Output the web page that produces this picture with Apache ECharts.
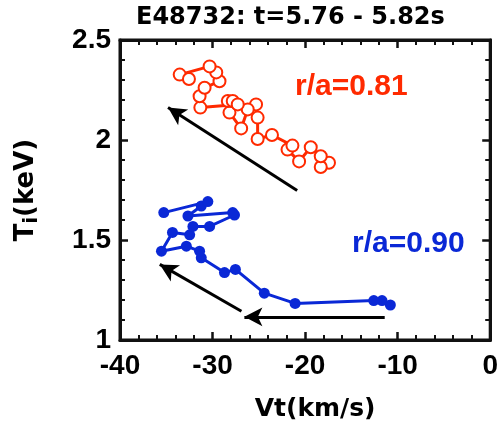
<!DOCTYPE html>
<html>
<head>
<meta charset="utf-8">
<script src="https://cdn.jsdelivr.net/npm/echarts@6/dist/echarts.min.js"></script>
<style>html,body{margin:0;padding:0;background:#fff;}#c{width:501px;height:427px;}</style>
</head>
<body>
<div id="c"></div>
<script>
const vt081 = [-17.42, -18.31, -18.31, -19.39, -20.65, -21.90, -21.37, -23.58, -25.13, -25.13, -25.30, -26.20, -26.91, -28.17, -28.35, -27.82, -27.28, -31.32, -31.40, -30.86, -29.25, -29.60, -30.32, -33.55, -32.55];
const ti081 = [1.886, 1.865, 1.919, 1.964, 1.893, 1.952, 1.972, 2.025, 2.005, 2.112, 2.178, 2.153, 2.058, 2.137, 2.195, 2.195, 2.178, 2.162, 2.219, 2.261, 2.294, 2.338, 2.368, 2.327, 2.305];
const vt090 = [-10.79, -11.69, -12.58, -21.08, -24.41, -27.53, -28.71, -31.22, -31.40, -32.83, -35.52, -34.33, -32.47, -32.12, -30.32, -27.63, -27.82, -32.66, -31.22, -30.51, -35.27];
const ti090 = [1.175, 1.197, 1.197, 1.183, 1.234, 1.353, 1.337, 1.411, 1.444, 1.469, 1.444, 1.538, 1.526, 1.568, 1.568, 1.625, 1.637, 1.620, 1.670, 1.692, 1.637];
const arrows = [
  [-20.86, 1.748, -34.81, 2.162],
  [-26.88, 1.144, -35.70, 1.378],
  [-11.40, 1.116, -26.56, 1.116]
];
const xTicks = [-40, -30, -20, -10, 0];
const yTicks = [1, 1.5, 2, 2.5];
const titleText = 'E48732: t=5.76 - 5.82s';
const labels = ['r/a=0.81', 'r/a=0.90'];

const RED = '#ff2a00', BLUE = '#0a28d6', INK = '#000000', AX = '#111111';
const zip = (a, b) => a.map((v, i) => [v, b[i]]);

const chart = echarts.init(document.getElementById('c'));
const tickFont = {fontFamily: 'Liberation Sans', fontWeight: 'bold', fontSize: 28, color: INK};
const line = () => ({show: true, onZero: false, lineStyle: {color: AX, width: 3}});
const tick = () => ({show: true, inside: true, length: 8, lineStyle: {color: AX, width: 2.5}});
const minor = () => ({show: true, splitNumber: 5, length: 5, lineStyle: {color: AX, width: 2}});

chart.setOption({
  animation: false,
  backgroundColor: '#fff',
  title: {
    text: titleText, left: 131, top: 1,
    textStyle: {fontFamily: 'DejaVu Sans', fontWeight: 'bold', fontSize: 24, color: INK}
  },
  grid: {left: 120, right: 9, top: 40, bottom: 84, show: true, borderColor: AX, borderWidth: 3, backgroundColor: 'transparent'},
  xAxis: [
    {
      type: 'value', min: xTicks[0], max: xTicks[4], interval: 10, position: 'bottom',
      axisLine: line(), axisTick: tick(), minorTick: minor(), splitLine: {show: false},
      axisLabel: Object.assign({margin: 12, showMinLabel: true, showMaxLabel: true}, tickFont),
      name: 'Vt(km/s)', nameLocation: 'middle', nameGap: 57,
      nameTextStyle: {fontFamily: 'DejaVu Sans', fontWeight: 'bold', fontSize: 25, color: INK, padding: [0, 0, 0, 20]}
    },
    {
      type: 'value', min: xTicks[0], max: xTicks[4], interval: 10, position: 'top',
      axisLine: line(), axisTick: tick(), minorTick: minor(), splitLine: {show: false},
      axisLabel: {show: false}
    }
  ],
  yAxis: [
    {
      type: 'value', min: yTicks[0], max: yTicks[3], interval: 0.5, position: 'left',
      axisLine: line(), axisTick: tick(), minorTick: minor(), splitLine: {show: false},
      axisLabel: Object.assign({margin: 9, showMinLabel: true, showMaxLabel: true,
        formatter: v => String(v)}, tickFont),
      name: '{a|T}{b|i}{a|(keV)}', nameLocation: 'middle', nameGap: 78, nameRotate: 90,
      nameTextStyle: {
        rich: {
          a: {fontFamily: 'DejaVu Sans', fontWeight: 'bold', fontSize: 26, color: INK, lineHeight: 32},
          b: {fontFamily: 'DejaVu Sans', fontWeight: 'bold', fontSize: 19, color: INK, lineHeight: 32, verticalAlign: 'bottom'}
        }
      }
    },
    {
      type: 'value', min: yTicks[0], max: yTicks[3], interval: 0.5, position: 'right',
      axisLine: line(), axisTick: tick(), minorTick: minor(), splitLine: {show: false},
      axisLabel: {show: false}
    }
  ],
  series: [
    {
      type: 'line', name: labels[0], data: zip(vt081, ti081),
      symbol: 'emptyCircle', symbolSize: 12,
      itemStyle: {color: RED, borderColor: RED, borderWidth: 1.6},
      lineStyle: {color: RED, width: 3}, z: 3
    },
    {
      type: 'line', name: labels[1], data: zip(vt090, ti090),
      symbol: 'circle', symbolSize: 11,
      itemStyle: {color: BLUE},
      lineStyle: {color: BLUE, width: 3}, z: 3
    },
    {
      type: 'line', data: [], silent: true,
      markLine: {
        silent: true, animation: false,
        symbol: ['none', 'arrow'], symbolSize: [14, 18],
        label: {show: false},
        lineStyle: {color: INK, width: 3, type: 'solid'},
        data: arrows.map(a => [{coord: [a[0], a[1]]}, {coord: [a[2], a[3]]}])
      }
    }
  ],
  graphic: [
    {type: 'text', left: 295, top: 72, style: {text: labels[0], fill: RED, font: 'bold 30px "Liberation Sans"'}},
    {type: 'text', left: 352, top: 229, style: {text: labels[1], fill: BLUE, font: 'bold 30px "Liberation Sans"'}}
  ]
});
</script>
</body>
</html>
